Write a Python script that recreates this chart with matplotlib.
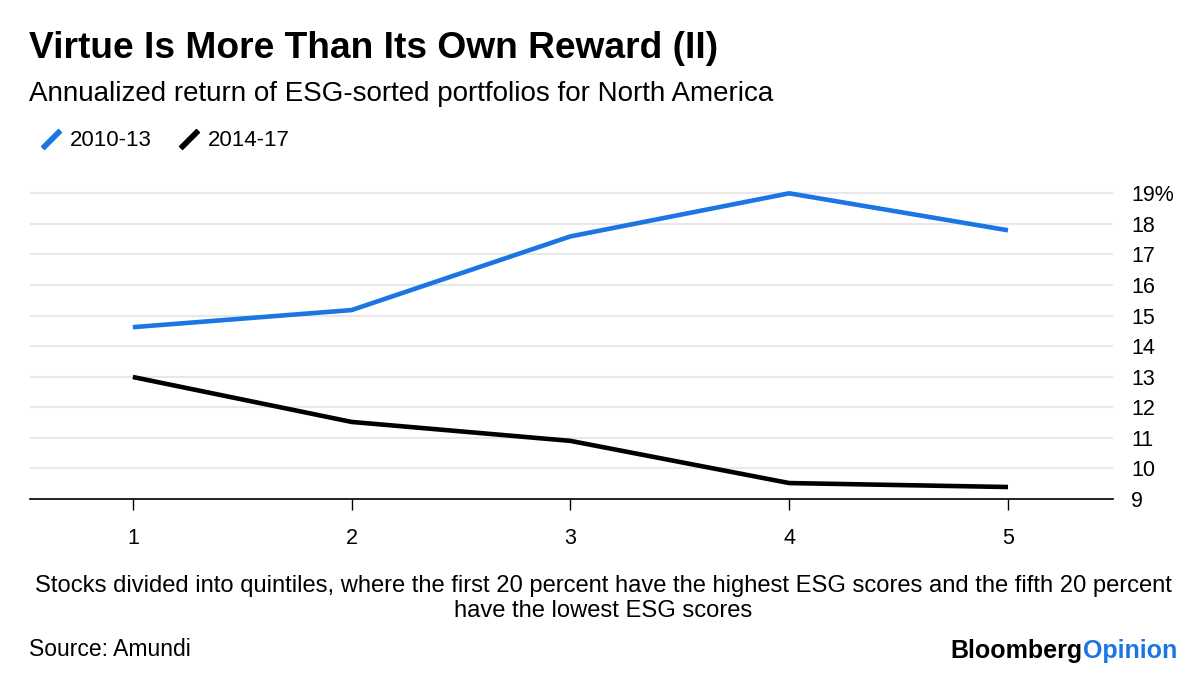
import matplotlib.pyplot as plt
from matplotlib.lines import Line2D

plt.rcParams['font.family'] = ['Liberation Sans', 'DejaVu Sans']

# data
quintiles = [1, 2, 3, 4, 5]
ret_2010_13 = [14.62, 15.18, 17.59, 19.0, 17.79]
ret_2014_17 = [12.99, 11.52, 10.90, 9.52, 9.39]
y_ticks = [9, 10, 11, 12, 13, 14, 15, 16, 17, 18, 19]
y_labels = ['9', '10', '11', '12', '13', '14', '15', '16', '17', '18', '19%']

blue = '#1b76e3'

fig = plt.figure(figsize=(12, 6.77), dpi=100)
ax = fig.add_axes([0.025, 0.263, 0.9025, 0.465])

ax.plot(quintiles, ret_2010_13, color=blue, lw=3.3, solid_capstyle='butt', zorder=3)
ax.plot(quintiles, ret_2014_17, color='black', lw=3.3, solid_capstyle='butt', zorder=3)

ax.set_xlim(0.53, 5.48)
ax.set_ylim(9, 19.3)

ax.set_yticks(y_ticks)
ax.set_yticklabels(y_labels)
ax.yaxis.tick_right()
ax.tick_params(axis='y', length=0, pad=13, labelsize=15.5)
ax.grid(axis='y', color='#e8e8e8', lw=1.5)
ax.set_axisbelow(True)

ax.set_xticks(quintiles)
ax.tick_params(axis='x', length=8, width=1, direction='out', pad=13, labelsize=15.5)

for s in ['top', 'left', 'right']:
    ax.spines[s].set_visible(False)
ax.spines['bottom'].set_linewidth(1.2)

# legend with slanted handles
handles = [Line2D([], [], color=blue, marker=(2, 2, -45), markersize=18, mew=3.8, ls='none'),
           Line2D([], [], color='black', marker=(2, 2, -45), markersize=18, mew=3.8, ls='none')]
fig.legend(handles, ['2010-13', '2014-17'], loc='center left', bbox_to_anchor=(0.016, 0.792),
           ncol=2, frameon=False, fontsize=16, handlelength=1.1, handletextpad=0.3,
           columnspacing=1.1)

# titles
fig.text(0.024, 0.929, 'Virtue Is More Than Its Own Reward (II)', fontsize=26.7, fontweight='bold', va='center')
fig.text(0.024, 0.861, 'Annualized return of ESG-sorted portfolios for North America', fontsize=20, va='center')

# footnote
fig.text(0.503, 0.116, 'Stocks divided into quintiles, where the first 20 percent have the highest ESG scores and the fifth 20 percent\nhave the lowest ESG scores',
         fontsize=17.1, ha='center', va='center', linespacing=1.22)
fig.text(0.024, 0.04, 'Source: Amundi', fontsize=16.5, va='center')

# logo
op = fig.text(0.981, 0.038, 'Opinion', fontsize=18, fontweight='bold', color=blue, ha='right', va='center')
ax.annotate('Bloomberg', xy=(0, 0.5), xycoords=op, ha='right', va='center',
            fontsize=18, fontweight='bold', color='black', annotation_clip=False)

fig.savefig('out.png', dpi=100)
